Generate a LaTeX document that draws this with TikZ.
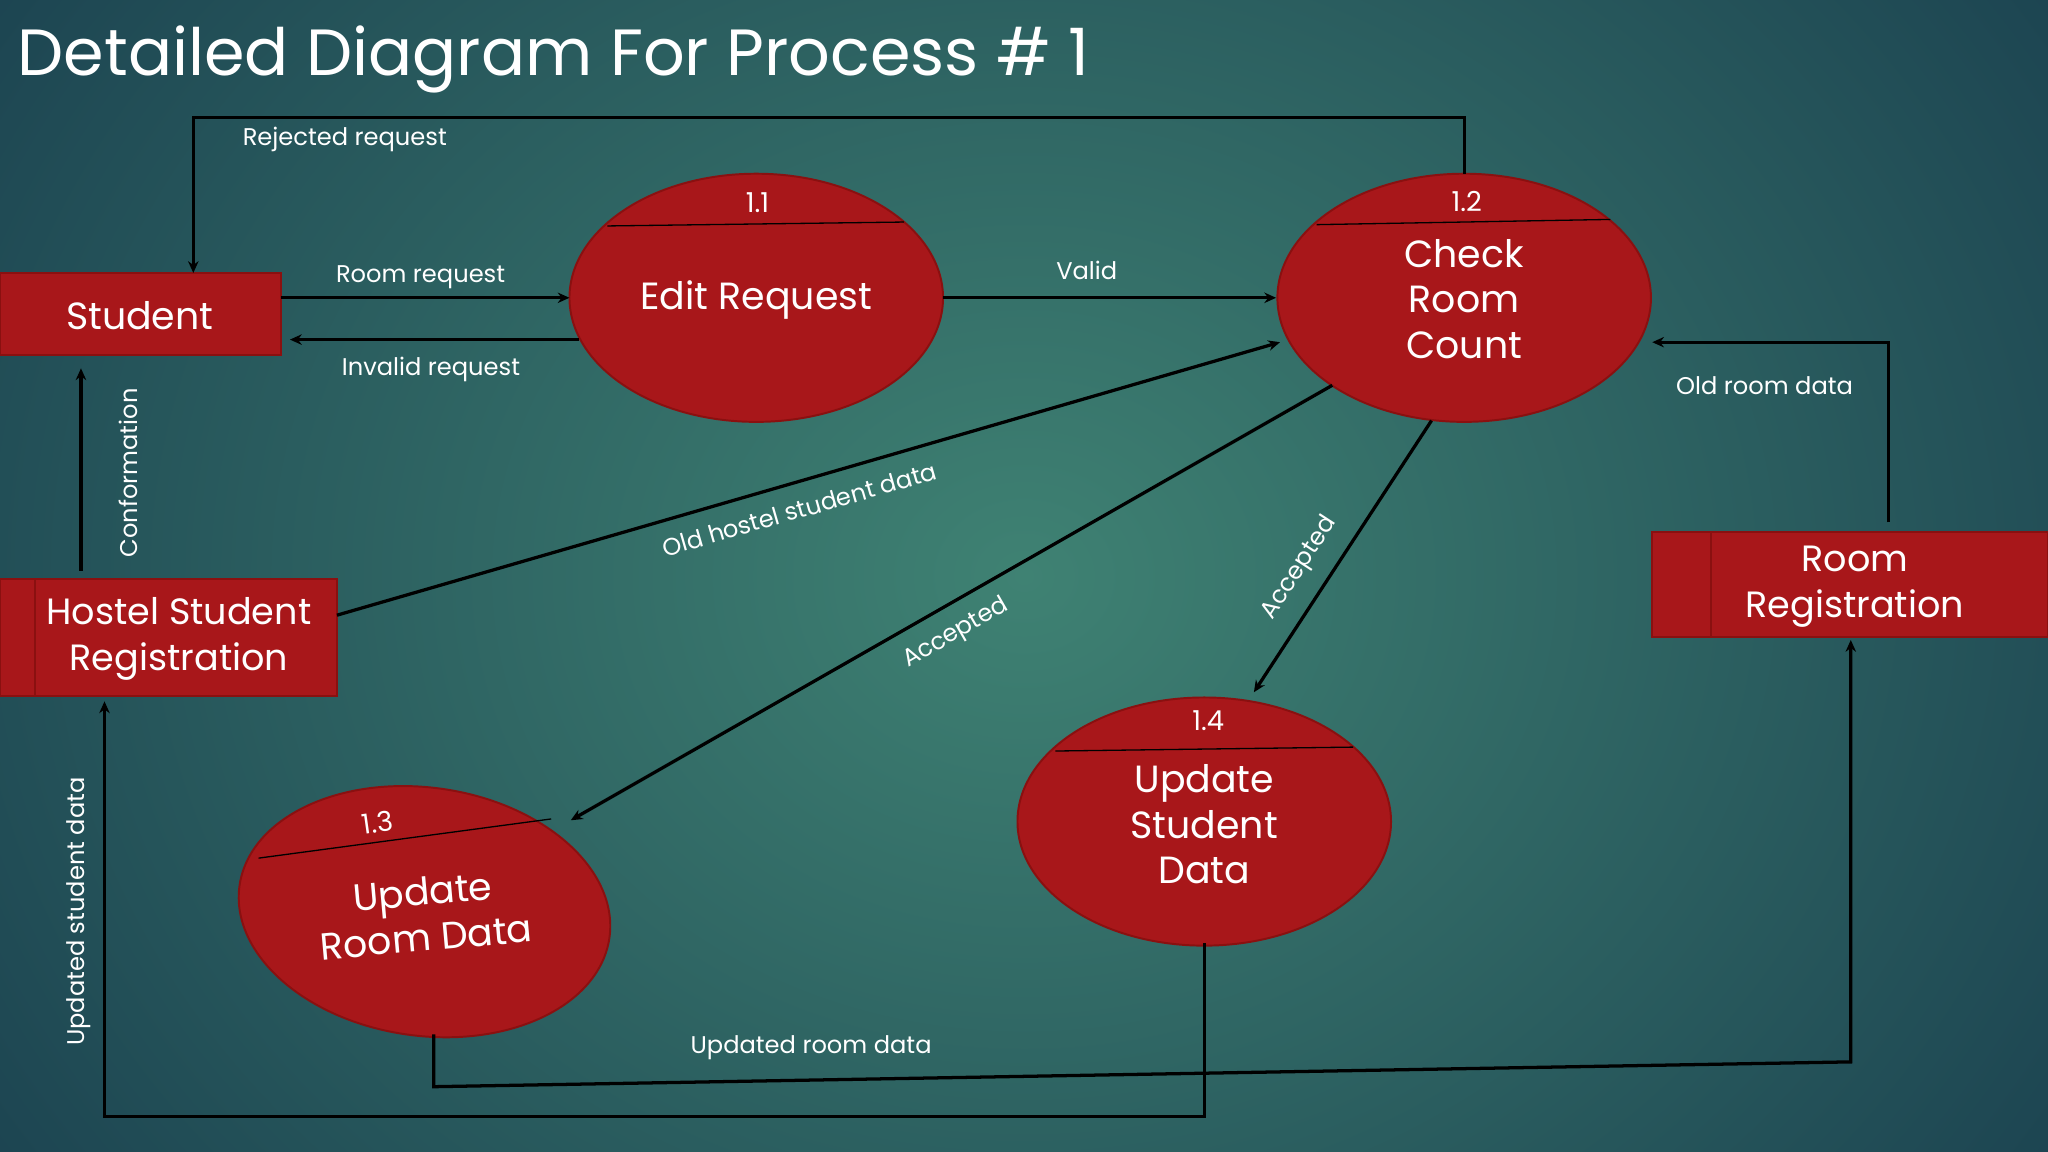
\documentclass[tikz,border=0pt]{standalone}
\usepackage{fontspec}
\setmainfont{Poppins}
\usetikzlibrary{arrows.meta,shapes.geometric}
\definecolor{redf}{HTML}{A8171A}
\definecolor{redb}{HTML}{8A1010}
\definecolor{bgin}{HTML}{3F8273}
\definecolor{bgout}{HTML}{1B4250}
\tikzset{
 proc/.style={ellipse,draw=redb,fill=redf,line width=1.5pt,minimum width=286pt,minimum height=190pt,inner sep=0pt},
 ent/.style={draw=redb,fill=redf,line width=1.5pt,inner sep=0pt},
 flow/.style={line width=2.5pt,black,-{Stealth[length=9pt,width=8pt]}},
 lbl/.style={text=white,font=\fontsize{18.5}{22}\selectfont,inner sep=1pt},
 big/.style={text=white,font=\fontsize{29}{35}\selectfont,align=center},
 num/.style={text=white,font=\fontsize{21}{24}\selectfont},
}
\begin{document}
\begin{tikzpicture}[x=1pt,y=-1pt]
\useasboundingbox (0,0) rectangle (1568,882);
\begin{scope}
\clip (0,0) rectangle (1568,882);
\shade[inner color=bgin,outer color=bgout] (-200,-400) rectangle (1768,1282);
\end{scope}
\node[anchor=base west,text=white,font=\fontsize{50}{58}\selectfont] (title) at (10,58) {Detailed Diagram For Process \# 1};
% entities
\draw[ent] (0,209) rectangle (215,272);
\node[big] (student) at (107,242) {Student};
\coordinate (stT) at (148,209);
\draw[ent] (0,443) rectangle (258,533);
\draw[redb,line width=1.5pt] (27,443) -- (27,533);
\node[big,font=\fontsize{28}{35}\selectfont] (hsr) at (137,489) {Hostel Student\\Registration};
\draw[ent] (1265,407) rectangle (1568,488);
\draw[redb,line width=1.5pt] (1310,407) -- (1310,488);
\node[big,font=\fontsize{28}{35}\selectfont] (rr) at (1420,449) {Room\\Registration};
% processes
\node[proc] (p11) at (579,228) {};
\draw[black,line width=1pt] (465,173) -- (692,170);
\node[num] (n11) at (580,155) {1.1};
\node[big] (t11) at (579,230) {Edit Request};
\node[proc] (p12) at (1121,228) {};
\draw[black,line width=1pt] (1008,172) -- (1233,168);
\node[num] (n12) at (1123,154) {1.2};
\node[big] (t12) at (1121,229) {Check\\Room\\Count};
\node[proc,rotate=-8] (p13) at (325,698) {};
\draw[black,line width=1pt] (198,657) -- (422,627);
\node[num,rotate=8] (n13) at (289,630) {1.3};
\node[big,rotate=5] (t13) at (325,700) {Update\\Room Data};
\node[proc] (p14) at (922,629) {};
\draw[black,line width=1pt] (808,575) -- (1036,572);
\node[num] (n14) at (925,552) {1.4};
\node[big] (t14) at (922,631) {Update\\Student\\Data};
% flows
\coordinate (a1) at (1121,133);
\draw[flow] (a1) -- (1121,90) -- (148,90) -- (stT);
\node[lbl] (l1) at (264,107) {Rejected request};
\draw[flow] (215,228) -- (436,228);
\node[lbl] (l2) at (322,212) {Room request};
\draw[flow] (443,260) -- (222,260);
\node[lbl] (l3) at (330,283) {Invalid request};
\draw[flow] (722,228) -- (977,228);
\node[lbl] (l4) at (832,207) {Valid};
\draw[flow] (258,471) -- (980,262);
\node[lbl,rotate=16] (l5) at (612,390) {Old hostel student data};
\draw[flow] (1020,295) -- (437,628);
\node[lbl,rotate=30] (l6) at (732,485) {Accepted};
\draw[flow] (1096,322) -- (960,530);
\node[lbl,rotate=57] (l7) at (995,435) {Accepted};
\draw[flow] (1446,400) -- (1446,262) -- (1265,262);
\node[lbl] (l8) at (1351,295) {Old room data};
\draw[flow] (62,437) -- (62,282);
\node[lbl,rotate=90] (l9) at (98,362) {Conformation};
\draw[flow] (332,792) -- (332,832) -- (1417,813) -- (1417,490);
\node[lbl] (l10) at (621,802) {Updated room data};
\draw[flow] (922,722) -- (922,855) -- (80,855) -- (80,537);
\node[lbl,rotate=90] (l11) at (60,698) {Updated student data};
\end{tikzpicture}
\end{document}
